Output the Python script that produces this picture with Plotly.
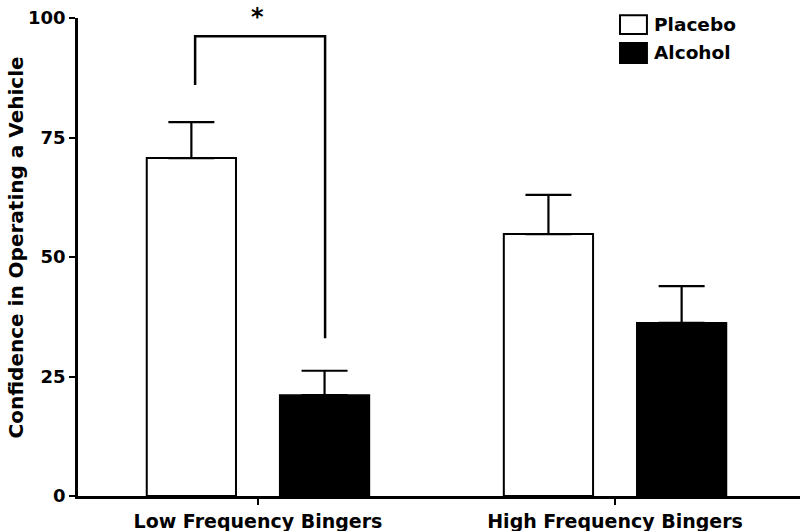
import plotly.graph_objects as go

categories = ["Low Frequency Bingers", "High Frequency Bingers"]
placebo = [70.7, 54.8]
placebo_err = [7.5, 8.2]
alcohol = [21.1, 36.2]
alcohol_err = [5.1, 7.7]
y_ticks = [0, 25, 50, 75, 100]

FONT = "DejaVu Sans, Verdana, sans-serif"

fig = go.Figure()
fig.add_trace(go.Bar(
    name="Placebo", x=categories, y=placebo,
    marker=dict(color="white", line=dict(color="black", width=2)),
    error_y=dict(type="data", array=placebo_err, arrayminus=[0, 0], symmetric=False,
                 color="black", thickness=2.2, width=23),
    showlegend=False,
))
fig.add_trace(go.Bar(
    name="Alcohol", x=categories, y=alcohol,
    marker=dict(color="black", line=dict(color="black", width=2)),
    error_y=dict(type="data", array=alcohol_err, arrayminus=[0, 0], symmetric=False,
                 color="black", thickness=2.2, width=23),
    showlegend=False,
))

# significance bracket
fig.add_shape(type="path", xref="x", yref="y",
              path="M -0.176,86 L -0.176,96.2 L 0.188,96.2 L 0.188,33",
              line=dict(color="black", width=2.5))
fig.add_annotation(x=0, y=1.036, xref="x", yref="paper", text="*", showarrow=False,
                   font=dict(family=FONT, size=24, color="black", weight="bold"),
                   yanchor="top")

# legend (manual)
fig.add_shape(type="rect", xref="paper", yref="paper", x0=0.7507, x1=0.788, y0=0.9665, y1=1.006,
              line=dict(color="black", width=2), fillcolor="white")
fig.add_shape(type="rect", xref="paper", yref="paper", x0=0.7507, x1=0.788, y0=0.906, y1=0.9478,
              line=dict(color="black", width=2), fillcolor="black")
fig.add_annotation(x=0.795, y=0.9854, xref="paper", yref="paper", text="Placebo", showarrow=False,
                   xanchor="left", yanchor="middle", font=dict(family=FONT, size=18.5, color="black", weight="bold"))
fig.add_annotation(x=0.795, y=0.9268, xref="paper", yref="paper", text="Alcohol", showarrow=False,
                   xanchor="left", yanchor="middle", font=dict(family=FONT, size=18.5, color="black", weight="bold"))

# y title
fig.add_annotation(x=-0.0859, y=0.52, xref="paper", yref="paper",
                   text="Confidence in Operating a Vehicle", showarrow=False, textangle=-90,
                   xanchor="center", yanchor="middle",
                   font=dict(family=FONT, size=20, color="black", weight="bold"))

fig.update_layout(
    width=800, height=531,
    margin=dict(l=78, r=0, t=18, b=35),
    plot_bgcolor="white", paper_bgcolor="white",
    barmode="group", bargap=0.254, bargroupgap=0.33,
    showlegend=False,
    font=dict(family=FONT, color="black"),
)
fig.update_xaxes(
    range=[-0.504, 1.518], showline=True, linecolor="black", linewidth=2.5,
    ticks="outside", ticklen=6, tickwidth=2, tickcolor="black",
    showgrid=False, zeroline=False, automargin=False,
    tickfont=dict(family=FONT, size=19, color="black", weight="bold"),
)
fig.update_yaxes(
    range=[0, 100], tickvals=y_ticks, showline=True, linecolor="black", linewidth=2.5,
    ticks="outside", ticklen=6, tickwidth=2, tickcolor="black",
    showgrid=False, zeroline=False, automargin=False,
    tickfont=dict(family=FONT, size=18, color="black", weight="bold"),
)

fig.write_html("out.html", config={"displayModeBar": False},
               post_script="document.body.style.margin='0';")
